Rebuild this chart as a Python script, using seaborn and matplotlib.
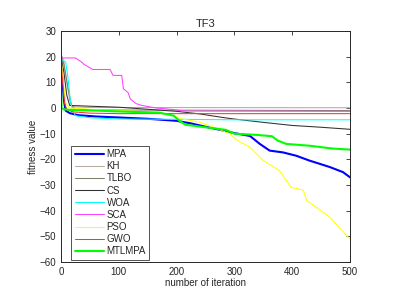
import numpy as np
import pandas as pd
import seaborn as sns
import matplotlib.pyplot as plt

# convergence curves (iteration, fitness value)
mpa_it = [0, 2, 5, 8, 15, 30, 60, 100, 150, 200, 225, 250, 275, 300, 327, 344, 361, 384, 407, 430, 465, 488, 500]
mpa_val = [18, 12, 3, -1, -2, -2.8, -3.3, -3.7, -4.2, -5, -6, -7.3, -8.5, -9.8, -10.9, -14, -16.6, -17.3, -18.6, -20.5, -23, -25, -27]

kh_it = [0, 5, 10, 15, 20, 50, 500]
kh_val = [21, 18, 10, 3, 0.5, 0.2, 0.1]

tlbo_it = [0, 5, 12, 18, 25, 100, 500]
tlbo_val = [21, 17, 8, 1, -0.5, -0.8, -1]

cs_it = [0, 5, 10, 15, 50, 100, 150, 200, 240, 280, 300, 350, 400, 450, 500]
cs_val = [20, 14, 5, 1, 0.7, 0.3, -0.5, -1.3, -2.3, -3.7, -4.3, -5.6, -6.8, -7.5, -8.3]

woa_it = [0, 8, 12, 16, 20, 25, 50, 100, 200, 300, 500]
woa_val = [19, 18, 12, 3, -1, -3, -3.8, -4.3, -4.4, -4.6, -4.6]

sca_it = [0, 2, 25, 35, 40, 55, 85, 90, 105, 108, 116, 120, 130, 140, 165, 190, 215, 500]
sca_val = [20, 19.5, 19.5, 18, 17, 15, 15, 12.7, 12.7, 7.5, 6, 3.5, 1.7, 1, 0, -0.5, -1.2, -1.3]

pso_it = [0, 3, 8, 15, 50, 100, 150, 190, 210, 240, 269, 292, 305, 327, 350, 378, 398, 419, 425, 465, 485, 500]
pso_val = [20, 12, 2, 0, -0.5, -1, -1.5, -2.5, -4.3, -5.5, -8, -10, -12.6, -15.3, -20.5, -24.4, -30.9, -32, -36, -42.5, -47.5, -51]

gwo_it = [0, 3, 6, 10, 20, 50, 100, 500]
gwo_val = [17, 10, 2, -0.5, -1.5, -2, -2.2, -2.2]

mtl_it = [0, 1, 5, 20, 60, 120, 170, 195, 205, 215, 260, 285, 300, 340, 365, 375, 390, 430, 470, 500]
mtl_val = [8, 0, -0.5, -0.8, -1, -1.5, -1.8, -3, -5, -6.5, -7.8, -8.5, -10, -10.5, -11, -12.7, -14, -14.7, -15.8, -16.2]

series = [
    ("MPA", mpa_it, mpa_val, "#0000ff", 1.5),
    ("KH", kh_it, kh_val, "#b5ab9a", 0.75),
    ("TLBO", tlbo_it, tlbo_val, "#7f7f6a", 0.75),
    ("CS", cs_it, cs_val, "#303030", 0.75),
    ("WOA", woa_it, woa_val, "#00ffff", 0.75),
    ("SCA", sca_it, sca_val, "#ff40ff", 0.75),
    ("PSO", pso_it, pso_val, "#ffff00", 0.75),
    ("GWO", gwo_it, gwo_val, "#ff3333", 0.75),
    ("MTLMPA", mtl_it, mtl_val, "#00ff00", 1.5),
]

sns.set_style("white")
plt.rcParams['font.family'] = ['Liberation Sans', 'DejaVu Sans']

fig = plt.figure(figsize=(4.09, 2.99), dpi=100)
ax = fig.add_axes([61 / 409, 37 / 299, 289 / 409, 231 / 299])

for name, it, val, col, lw in series:
    df = pd.DataFrame({"iter": it, "val": val})
    sns.lineplot(data=df, x="iter", y="val", color=col, lw=lw, label=name, ax=ax, sort=False)

ax.set_xlim(0, 500)
ax.set_ylim(-60, 30)
ax.set_xticks([0, 100, 200, 300, 400, 500])
ax.set_yticks(np.arange(-60, 31, 10))
ax.tick_params(direction="in", top=True, right=True, labelsize=7, length=3, width=0.6, colors="#262626")
for s in ax.spines.values():
    s.set_color("#262626")
    s.set_linewidth(0.7)
ax.set_title("TF3", fontsize=8, pad=3)
ax.set_xlabel("number of iteration", fontsize=7, labelpad=1)
ax.set_ylabel("fitness value", fontsize=7, labelpad=1)

leg = ax.legend(loc="lower left", bbox_to_anchor=(0.035, 0.01), fontsize=7, frameon=True,
                fancybox=False, edgecolor="#262626", handlelength=3.0, handletextpad=0.3,
                labelspacing=0.22, borderpad=0.35, borderaxespad=0)
leg.get_frame().set_linewidth(0.7)

fig.savefig("out.png", dpi=100)
